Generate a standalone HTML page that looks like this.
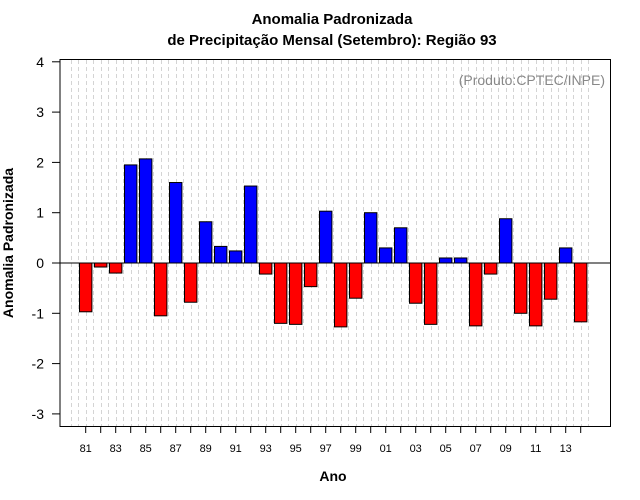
<!DOCTYPE html>
<html><head><meta charset="utf-8"><style>
body{margin:0;background:#fff;}
svg{display:block;font-family:"Liberation Sans",sans-serif;}
</style></head><body>
<svg id="c" width="640" height="500">
<text x="332" y="24" text-anchor="middle" font-size="15" font-weight="bold">Anomalia Padronizada</text>
<text x="332" y="45" text-anchor="middle" font-size="15" font-weight="bold">de Precipitação Mensal (Setembro): Região 93</text>
<g id="grid"></g>
<g id="bars"></g>
<line x1="60" x2="610" y1="263" y2="263" stroke="#000"/>
<rect x="60" y="59.5" width="550.5" height="367" fill="none" stroke="#000"/>
<g id="axes"></g>
<text x="605" y="85" text-anchor="end" font-size="14" fill="#888">(Produto:CPTEC/INPE)</text>
<text x="333" y="481" text-anchor="middle" font-size="14" font-weight="bold">Ano</text>
<text transform="translate(13,243) rotate(-90)" text-anchor="middle" font-size="14" font-weight="bold">Anomalia Padronizada</text>
</svg>
<script>
const years=[1981,1982,1983,1984,1985,1986,1987,1988,1989,1990,1991,1992,1993,1994,1995,1996,1997,1998,1999,2000,2001,2002,2003,2004,2005,2006,2007,2008,2009,2010,2011,2012,2013,2014];
const values=[-0.97,-0.08,-0.2,1.95,2.07,-1.05,1.6,-0.78,0.82,0.33,0.24,1.53,-0.22,-1.2,-1.22,-0.47,1.03,-1.27,-0.7,1.0,0.3,0.7,-0.8,-1.22,0.1,0.1,-1.25,-0.22,0.88,-1.0,-1.25,-0.72,0.3,-1.17];
const yTicks=[-3,-2,-1,0,1,2,3,4];
const NS="http://www.w3.org/2000/svg";
function xs(y){return 85.7+(y-1981)*15;}
function ys(v){return 263-v*50.3;}
function mk(tag,attrs,parent){const e=document.createElementNS(NS,tag);for(const k in attrs)e.setAttribute(k,attrs[k]);document.getElementById(parent).appendChild(e);return e;}
for(let y=years[0]-1;y<=years[years.length-1]+0.6;y+=0.5){
 const l=mk('line',{x1:Math.round(xs(y))+0.5,x2:Math.round(xs(y))+0.5,y1:60,y2:426,stroke:'#d4d4d4','stroke-dasharray':'4,3'},'grid');
 
 
}
years.forEach((yr,i)=>{
 const v=values[i];
 const r=mk('rect',{x:xs(yr)-6.2,y:Math.min(ys(v),ys(0)),width:12.4,height:Math.abs(ys(v)-ys(0)),fill:v>=0?'#0000ff':'#ff0000',stroke:'#000'},'bars');
 
 
 const t=mk('line',{x1:xs(yr),x2:xs(yr),y1:426,y2:433,stroke:'#000'},'axes');
 
 
 if(i%2===0){
  const tx=mk('text',{x:xs(yr),y:452,'text-anchor':'middle','font-size':11},'axes');
  tx.textContent=String(yr).slice(2);
  
  
 }
});
yTicks.forEach(v=>{
 const t=mk('line',{x1:52,x2:60,y1:ys(v),y2:ys(v),stroke:'#000'},'axes');
 
 
 const tx=mk('text',{x:44,y:ys(v)+5,'text-anchor':'end','font-size':14},'axes');
 tx.textContent=v;
 
 
});
</script>
</body></html>
